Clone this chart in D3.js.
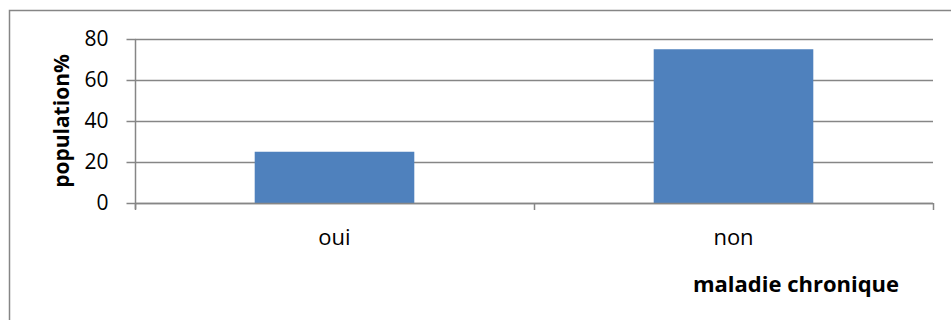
<!DOCTYPE html>
<html>
<head>
<meta charset="utf-8">
<script src="https://cdn.jsdelivr.net/npm/d3@7"></script>
<style>
  html, body { margin: 0; padding: 0; background: #fff; }
  svg { display: block; }
  text { font-family: "Open Sans", sans-serif; fill: #000; }
</style>
</head>
<body>
<svg id="chart" width="951" height="320"></svg>
<script>
// Chronic illness: share of the population (%)
const categories = ["oui", "non"];
const values = [25, 75];
const yTicks = [0, 20, 40, 60, 80];
const yTitle = "population%";
const xTitle = "maladie chronique";

const svg = d3.select("#chart");
const W = 951, H = 320;
const plot = { left: 135, right: 933, top: 39, bottom: 203 };
const gridColor = "#868686";
const barColor = "#4F81BD";

// Outer chart frame (runs past the right and bottom edges)
svg.append("rect")
  .attr("x", 9.5).attr("y", 10.5)
  .attr("width", W + 20).attr("height", H + 20)
  .attr("fill", "#fff")
  .attr("stroke", gridColor).attr("stroke-width", 1.5);

const x = d3.scaleBand()
  .domain(categories)
  .range([plot.left, plot.right])
  .paddingInner(0.6)
  .paddingOuter(0.3);

const y = d3.scaleLinear()
  .domain([0, 80])
  .range([plot.bottom, plot.top]);

// Horizontal gridlines
svg.append("g")
  .selectAll("line")
  .data(yTicks)
  .join("line")
  .attr("x1", plot.left).attr("x2", plot.right)
  .attr("y1", d => Math.round(y(d)) + 0.5)
  .attr("y2", d => Math.round(y(d)) + 0.5)
  .attr("stroke", gridColor).attr("stroke-width", 1.5);

// Bars
svg.append("g")
  .selectAll("rect")
  .data(categories.map((c, i) => ({ c, v: values[i] })))
  .join("rect")
  .attr("x", d => x(d.c))
  .attr("width", x.bandwidth())
  .attr("y", d => y(d.v))
  .attr("height", d => y(0) - y(d.v))
  .attr("fill", barColor);

// Y axis
const yAxis = svg.append("g")
  .attr("transform", `translate(${plot.left + 0.5},0)`)
  .call(d3.axisLeft(y).tickValues(yTicks).tickSize(9).tickPadding(18).tickFormat(d3.format("d")));
yAxis.select(".domain").attr("stroke", gridColor).attr("stroke-width", 1.5)
  .attr("d", `M0,${plot.top}V${plot.bottom + 6}`);
yAxis.selectAll(".tick line").attr("stroke", gridColor).attr("stroke-width", 1.5);
yAxis.selectAll(".tick text").attr("font-size", 21).attr("font-family", "Open Sans");

// X axis: ticks at category boundaries
const boundaries = [plot.left, (plot.left + plot.right) / 2, plot.right];
const xAxisG = svg.append("g");
xAxisG.append("line")
  .attr("x1", plot.left).attr("x2", plot.right)
  .attr("y1", plot.bottom + 0.5).attr("y2", plot.bottom + 0.5)
  .attr("stroke", gridColor).attr("stroke-width", 1.5);
xAxisG.selectAll("line.tk")
  .data(boundaries)
  .join("line")
  .attr("class", "tk")
  .attr("x1", d => Math.round(d) + 0.5).attr("x2", d => Math.round(d) + 0.5)
  .attr("y1", plot.bottom).attr("y2", plot.bottom + 7)
  .attr("stroke", gridColor).attr("stroke-width", 1.5);

// Category labels
svg.append("g")
  .selectAll("text")
  .data(categories)
  .join("text")
  .attr("x", d => x(d) + x.bandwidth() / 2)
  .attr("y", 245)
  .attr("text-anchor", "middle")
  .attr("font-size", 22)
  .text(d => d);

// Axis titles
svg.append("text")
  .attr("x", 796).attr("y", 292)
  .attr("text-anchor", "middle")
  .attr("font-size", 22)
  .attr("font-weight", "bold")
  .text(xTitle);

svg.append("text")
  .attr("transform", "translate(69,121) rotate(-90)")
  .attr("text-anchor", "middle")
  .attr("font-size", 21)
  .attr("font-weight", "bold")
  .text(yTitle);
</script>
</body>
</html>
